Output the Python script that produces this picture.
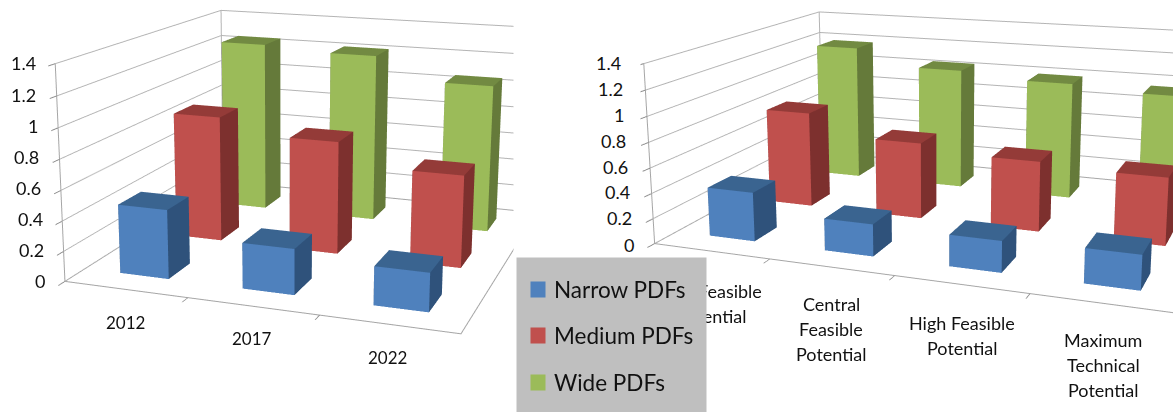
import numpy as np, plotly.graph_objects as go

# ---------- data ----------
SERIES = ["Narrow PDFs", "Medium PDFs", "Wide PDFs"]
YEARS = ["2012", "2017", "2022"]
NARROW_Y = [0.46, 0.30, 0.25]
MEDIUM_Y = [0.88, 0.78, 0.63]
WIDE_Y = [1.25, 1.22, 1.06]
POTENTIALS = ["Low Feasible Potential", "Central Feasible Potential", "High Feasible Potential", "Maximum Technical Potential"]
NARROW_P = [0.39, 0.25, 0.24, 0.26]
MEDIUM_P = [0.80, 0.63, 0.57, 0.54]
WIDE_P = [1.19, 1.05, 1.00, 0.96]
VALUE_TICKS = ["0", "0.2", "0.4", "0.6", "0.8", "1", "1.2", "1.4"]

# ---------- style ----------
FRONT = ["#4F81BD", "#C0504D", "#9BBB59"]
SIDE = ["#2F527B", "#7D302E", "#657A3A"]
TOP = ["#3A6490", "#943B38", "#728A42"]
GRID = "#B4B4B4"
FONT = "Lato"
TXT = "#111111"
# page: the scene height sets the lens, so the page is taller than the window and slid up
T = 376
PW, PH = 1214, 1065

def basis(yaw, pitch, roll):
    d = np.array([np.cos(pitch)*np.sin(yaw), np.cos(pitch)*np.cos(yaw), np.sin(pitch)])
    r = np.cross(d, [0, 0, 1.]); r /= np.linalg.norm(r); u = np.cross(r, d)
    return d, -np.sin(roll)*r + np.cos(roll)*u

def camera(eye, yaw, pitch, roll):
    d, u = basis(yaw, pitch, roll); eye = np.array(eye); c = eye + d*np.linalg.norm(eye)
    return dict(eye=dict(x=eye[0], y=eye[1], z=eye[2]), center=dict(x=c[0], y=c[1], z=c[2]), up=dict(x=u[0], y=u[1], z=u[2]))

def add_bars(fig, scene, groups, wx, wy):
    N = len(groups[0])
    for j, vals in enumerate(groups):
        X, Y, Z, I, J, K, FC = [], [], [], [], [], [], []
        for i, v in enumerate(vals):
            n = len(X)
            xs = [i+.5-wx/2, i+.5+wx/2]; ys = [j+.5-wy/2, j+.5+wy/2]; zs = [0, v]
            for a in (0, 1):
                for b in (0, 1):
                    for c in (0, 1):
                        X.append(xs[a]); Y.append(ys[b]); Z.append(zs[c])
            q = lambda a, b, c: n + a*4 + b*2 + c
            faces = [(q(0,0,0), q(1,0,0), q(1,0,1), q(0,0,1), FRONT[j]),
                     (q(1,0,0), q(1,1,0), q(1,1,1), q(1,0,1), SIDE[j]),
                     (q(0,0,1), q(1,0,1), q(1,1,1), q(0,1,1), TOP[j]),
                     (q(0,0,0), q(0,1,0), q(0,1,1), q(0,0,1), SIDE[j])]
            for A, B, C, D, col in faces:
                I += [A, A]; J += [B, C]; K += [C, D]; FC += [col, col]
        fig.add_trace(go.Mesh3d(x=X, y=Y, z=Z, i=I, j=J, k=K, facecolor=FC, flatshading=True, name=SERIES[j], scene=scene,
                                hoverinfo="skip", lighting=dict(ambient=1, diffuse=0, specular=0, roughness=1, fresnel=0)))
    fig.add_trace(go.Scatter3d(x=[0, N, N, 0, 0, 0], y=[0, 0, 3, 3, 0, 0], z=[0, 0, 0, 0, 0, 1.4], mode="lines",
                               line=dict(color="#A6A6A6", width=2), scene=scene, hoverinfo="skip"))
    fig.add_trace(go.Scatter3d(x=[0, 0], y=[3, 3], z=[0, 1.4], mode="lines",
                               line=dict(color=GRID, width=2), scene=scene, hoverinfo="skip"))

def scene_layout(dom_x, dom_y, N, cam, ay, az):
    ax = dict(showgrid=False, zeroline=False, showticklabels=False, showbackground=False, showspikes=False, title="", showline=False)
    return dict(domain=dict(x=[dom_x[0]/PW, dom_x[1]/PW], y=[1-dom_y[1]/PH, 1-dom_y[0]/PH]), camera=cam, aspectmode="manual",
                aspectratio=dict(x=1, y=ay, z=az), bgcolor="rgba(0,0,0,0)", dragmode=False,
                xaxis=dict(ax, range=[0, N], tickvals=list(range(1, N)), ticks="outside", ticklen=6, tickwidth=2, tickcolor="#8C8C8C"),
                yaxis=dict(ax, range=[0, 3]),
                zaxis=dict(ax, range=[0, 1.4], dtick=.2, showgrid=True, gridcolor=GRID, gridwidth=2, ticks="outside", ticklen=6, tickwidth=2, tickcolor="#8C8C8C"))

def label(text, px, py, anchor="center", size=18, **kw):
    return dict(text=text, xref="paper", yref="paper", x=px/PW, y=1-(py+T)/PH, xanchor=anchor, yanchor="middle", showarrow=False,
                font=dict(family=FONT, size=size, color=TXT), borderpad=0, **kw)

def box(x0, y0, x1, y1, color):
    return dict(text=" ", xref="paper", yref="paper", x=(x0+x1)/2/PW, y=1-((y0+y1)/2+T)/PH, xanchor="center", yanchor="middle",
                showarrow=False, width=x1-x0, height=y1-y0, bgcolor=color, borderpad=0, font=dict(size=1))

fig = go.Figure()
add_bars(fig, "scene", [NARROW_Y, MEDIUM_Y, WIDE_Y], 0.404, 0.381)
add_bars(fig, "scene2", [NARROW_P, MEDIUM_P, WIDE_P], 0.399, 0.366)

f_l, px_l, py_l = 1284.0, 314.6, 156.4
f_r, px_r, py_r = 1178.0, 926.6, 133.8
hl, hr = f_l/1.2071, f_r/1.2071
scene_l = scene_layout((0, 2*px_l), (py_l+T-hl/2, py_l+T+hl/2), 3, camera([1.0631, -3.1381, 0.8144], -0.3324, -0.2495, 0.0061), 0.9968, 0.5462)
scene_r = scene_layout((640, 2*px_r-640), (py_r+T-hr/2, py_r+T+hr/2), 4, camera([0.7561, -2.204, 0.5675], -0.3626, -0.2397, -0.0024), 0.7458, 0.3522)

ann = []
ann.append(box(514, -5, 640, 258, "white"))
tick_l = [(46, 281), (45, 250), (44, 219), (42, 188), (40, 157), (39, 126), (37, 95), (37, 63)]
tick_r = [(635, 245), (633, 218), (631, 192), (629, 167), (627, 141), (625, 115), (624, 89), (622, 63)]
for txt, a, b in zip(VALUE_TICKS, tick_l, tick_r):
    ann.append(label(txt, a[0], a[1], "right"))
    ann.append(label(txt, b[0], b[1], "right"))
for txt, x, y in zip(YEARS, (125, 252, 388), (322, 338, 357)):
    ann.append(label(txt, x, y, size=17))
wrapped = [["Low Feasible", "Potential"], ["Central", "Feasible", "Potential"], ["High Feasible", "Potential"], ["Maximum", "Technical", "Potential"]]
for lines, x, y0 in zip(wrapped, (711, 831, 962, 1103), (291, 304, 323, 340)):
    for n, line in enumerate(lines):
        ann.append(label(line, x, y0+25*n))
ann.append(box(517, 258, 706, 412, "#BFBFBF"))
for name, col, yc in zip(SERIES, FRONT, (289, 335, 382)):
    ann.append(box(531, yc-7, 545, yc+8, col))
    ann.append(label(name, 553, yc, "left", size=22.5))

fig.update_layout(width=PW, height=PH, margin=dict(l=0, r=0, t=0, b=0), showlegend=False, paper_bgcolor="white",
                  scene=scene_l, scene2=scene_r, annotations=ann)
fig.write_html("out.html", config=dict(displayModeBar=False),
               post_script="document.documentElement.style.overflow='hidden';document.body.style.overflow='hidden';document.body.style.margin='0';document.getElementById('{plot_id}').style.marginTop='-%dpx';" % T)
